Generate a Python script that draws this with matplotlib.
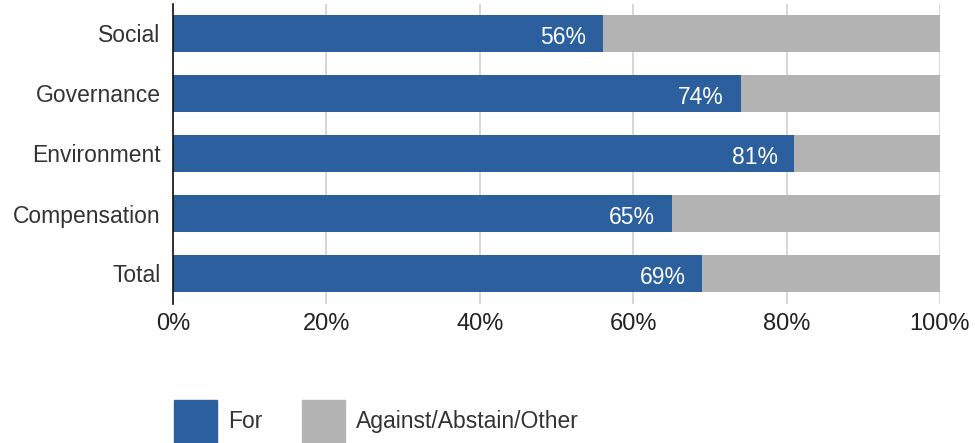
import matplotlib.pyplot as plt
from matplotlib.patches import Patch

plt.rcParams['font.family'] = ['Liberation Sans', 'DejaVu Sans']

# Data
categories = ['Total', 'Compensation', 'Environment', 'Governance', 'Social']
for_pct = [69, 65, 81, 74, 56]
other_pct = [100 - v for v in for_pct]

blue = '#2B5F9E'
grey = '#B3B3B3'

fig = plt.figure(figsize=(9.75, 4.43), dpi=100)
ax = fig.add_axes([173/975, 1 - 303.5/443, (940 - 173)/975, 300/443])

ypos = range(len(categories))
ax.barh(ypos, for_pct, height=0.62, color=blue, zorder=3)
ax.barh(ypos, other_pct, left=for_pct, height=0.62, color=grey, zorder=3)

for y, v in zip(ypos, for_pct):
    ax.annotate('%d%%' % v, xy=(v, y), xytext=(-12, -1), textcoords='offset points',
                ha='right', va='center_baseline', color='white', fontsize=16.5, zorder=4)

ax.set_xlim(0, 100)
ax.set_ylim(-0.5, 4.5)
ax.set_xticks([0, 20, 40, 60, 80, 100])
ax.set_xticklabels(['0%', '20%', '40%', '60%', '80%', '100%'])
ax.set_yticks(list(ypos))
ax.set_yticklabels(categories)
ax.tick_params(axis='x', length=0, pad=7, labelsize=17, labelcolor='#222222')
ax.tick_params(axis='y', length=0, pad=9, labelsize=16.5, labelcolor='#333333')

ax.xaxis.grid(True, color='#D0D0D0', linewidth=1.2, zorder=0)
for s in ['top', 'right', 'bottom']:
    ax.spines[s].set_visible(False)
ax.spines['left'].set_color('#111111')
ax.spines['left'].set_linewidth(1.2)
ax.spines['left'].set_zorder(5)

# legend squares ~43px
handles = [Patch(color=blue, label='For'), Patch(color=grey, label='Against/Abstain/Other')]
leg = fig.legend(handles=handles, loc='lower left', bbox_to_anchor=(174/975, 0.0),
                 ncol=2, frameon=False, fontsize=16.5, handlelength=1.87, handleheight=2.51,
                 handletextpad=0.48, columnspacing=1.75, borderpad=0, borderaxespad=0)
for t in leg.get_texts():
    t.set_color('#333333')

fig.savefig('out.png', dpi=100)
